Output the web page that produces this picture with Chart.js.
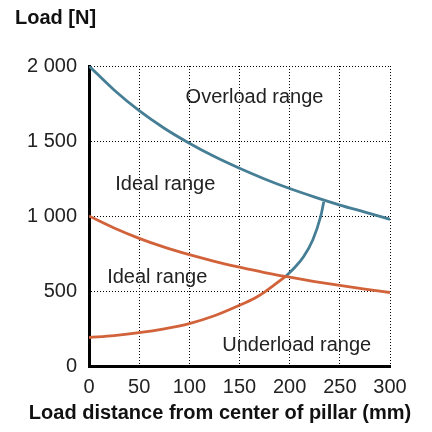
<!DOCTYPE html>
<html>
<head>
<meta charset="utf-8">
<script src="https://cdn.jsdelivr.net/npm/chart.js"></script>
<style>
  html, body { margin: 0; padding: 0; background: #fff; }
  #wrap { width: 432px; height: 432px; }
</style>
</head>
<body>
<div id="wrap"><canvas id="load-chart" width="432" height="432"></canvas></div>
<script>
    // values
    const distances = [0, 25, 50, 75, 100, 125, 150, 175, 200, 225, 250, 275, 300];
    const upperLimit = [2000, 1840, 1702, 1585, 1485, 1396, 1318, 1247, 1183, 1126, 1073, 1026, 978];
    const lowerLimit = [1000, 920, 851, 792, 742, 698, 659, 623, 592, 563, 537, 513, 490];
    const riseDistLow = [0, 25, 50, 75, 100, 125, 150, 165, 175, 185, 196];
    const riseLoadLow = [190, 203, 222, 248, 283, 335, 405, 452, 493, 543, 597];
    const riseDistHigh = [196, 205, 214, 223, 231, 234];
    const riseLoadHigh = [597, 657, 730, 840, 1000, 1095];
    const xTicks = [0, 50, 100, 150, 200, 250, 300];
    const yTicks = [0, 500, 1000, 1500, 2000];
    const yTickLabels = ['0', '500', '1 000', '1 500', '2 000'];
    const xTitle = 'Load distance from center of pillar (mm)';
    const regionLabels = ['Overload range', 'Ideal range', 'Ideal range', 'Underload range'];
    const regionX = [165, 76, 68, 207];
    const regionY = [1793, 1207, 593, 140];

    const blue = '#457e95';
    const orange = '#d2623a';
    const font = '"Liberation Sans", Arial, Helvetica, sans-serif';

    const pts = (xs, ys) => xs.map((x, i) => ({ x: x, y: ys[i] }));

    // region names inside the plot and the x axis title (the scale title gets squeezed to the axis width)
    const chartText = {
        id: 'chartText',
        afterDatasetsDraw(chart) {
            const { ctx, scales: { x, y } } = chart;
            ctx.save();
            ctx.font = '20px ' + font;
            ctx.fillStyle = '#222';
            ctx.textAlign = 'center';
            ctx.textBaseline = 'middle';
            regionLabels.forEach((t, i) => {
                ctx.fillText(t, x.getPixelForValue(regionX[i]), y.getPixelForValue(regionY[i]));
            });
            ctx.font = 'bold 20px ' + font;
            ctx.fillStyle = '#111';
            ctx.fillText(xTitle, 220, x.bottom - 19);
            ctx.restore();
        }
    };

    const line = (data, color) => ({
        data: data,
        showLine: true,
        borderColor: color,
        borderWidth: 2.8,
        pointRadius: 0,
        fill: false,
        cubicInterpolationMode: 'monotone'
    });

    new Chart(document.getElementById('load-chart').getContext('2d'), {
        type: 'scatter',
        data: {
            datasets: [
                line(pts(distances, upperLimit), blue),
                line(pts(distances, lowerLimit), orange),
                line(pts(riseDistLow, riseLoadLow), orange),
                line(pts(riseDistHigh, riseLoadHigh), blue)
            ]
        },
        options: {
            responsive: false,
            animation: false,
            layout: { padding: { left: 15, right: 42, top: 0, bottom: 0 } },
            plugins: {
                legend: { display: false },
                tooltip: { enabled: false },
                title: {
                    display: true,
                    text: 'Load [N]',
                    align: 'start',
                    color: '#111',
                    font: { family: font, size: 20, weight: 'bold' },
                    padding: { top: 6, bottom: 36 }
                }
            },
            scales: {
                x: {
                    type: 'linear',
                    min: 0,
                    max: 300,
                    afterBuildTicks: s => { s.ticks = xTicks.map(v => ({ value: v })); },
                    afterFit: s => { s.height = 66; },
                    grid: { color: '#000', lineWidth: 1, drawTicks: false },
                    border: { display: true, color: '#000', width: 3, dash: [1, 2] },
                    ticks: { color: '#222', padding: 9, font: { family: font, size: 20 }, maxRotation: 0 }
                },
                y: {
                    type: 'linear',
                    min: 0,
                    max: 2000,
                    afterBuildTicks: s => { s.ticks = yTicks.map(v => ({ value: v })); },
                    afterFit: s => { s.width = 74; },
                    grid: { color: '#000', lineWidth: 1, drawTicks: false },
                    border: { display: true, color: '#000', width: 3, dash: [1, 2] },
                    ticks: {
                        color: '#222',
                        padding: 12,
                        font: { family: font, size: 20 },
                        callback: v => yTickLabels[yTicks.indexOf(v)]
                    }
                }
            }
        },
        plugins: [chartText]
    });
</script>
</body>
</html>
